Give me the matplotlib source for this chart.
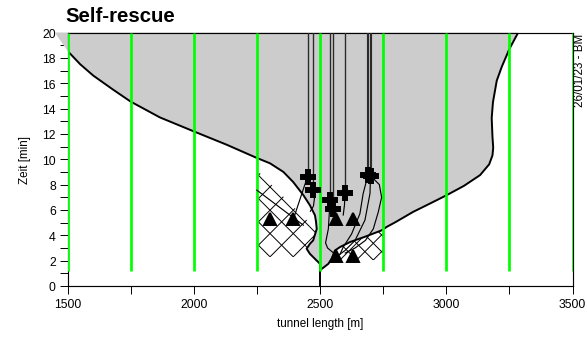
import numpy as np
import matplotlib.pyplot as plt
from matplotlib.patches import Polygon

plt.rcParams['font.family'] = ['Liberation Sans', 'DejaVu Sans']

# boundary of the grey zone (tunnel length [m], time [min])
zone_x = [1450, 3285, 3250, 3220, 3200, 3185, 3180, 3183, 3186, 3183, 3170, 3134,
          3070, 3002, 2935, 2869, 2800, 2764, 2744, 2680, 2619, 2579, 2559, 2546,
          2533, 2507, 2500, 2500, 2480, 2460, 2447, 2460, 2473, 2487, 2484, 2480,
          2460, 2434, 2394, 2355, 2302, 2250, 2130, 2000, 1866, 1750, 1680, 1602,
          1550, 1500, 1450]
zone_y = [20, 20, 18.7, 17.3, 16.2, 14.5, 13.25, 11.8, 10.9, 10.3, 9.6, 8.75,
          7.9, 7.17, 6.5, 5.85, 5.05, 4.66, 4.39, 3.9, 3.47, 3.07, 2.8, 2.14,
          1.75, 1.35, 1.3, 1.75, 2.14, 2.54, 2.94, 3.33, 3.6, 4.5, 5.1, 5.58,
          6.37, 7.17, 8.2, 9.0, 9.68, 10.1, 11.15, 12.2, 13.3, 14.55, 15.5, 16.6,
          17.5, 18.55, 20]

# cross-hatched areas
hatch_left_x = [2250, 2250, 2490, 2490]
hatch_left_y = [2.3, 9.15, 4.35, 2.3]
hatch_right_x = [2540, 2750, 2750, 2540]
hatch_right_y = [2.05, 2.05, 4.8, 3.4]

# measuring positions (green)
sensor_x = [1500, 1750, 2000, 2250, 2500, 2750, 3000, 3250, 3500]

# persons: walking line from the top down to the point where they react
walk_x = [2451, 2473, 2540, 2553, 2599, 2690, 2700]
react_y = [8.6, 7.56, 6.77, 6.1, 7.3, 8.75, 8.7]

# escape paths after reacting
paths = [
    ([2451, 2440, 2420, 2395], [8.6, 8.0, 6.8, 5.3]),
    ([2473, 2478, 2474, 2462], [7.56, 6.9, 6.3, 5.9]),
    ([2250, 2434], [7.56, 4.8]),
    ([2540, 2533, 2522, 2530, 2548, 2565], [6.77, 4.5, 3.4, 3.0, 2.7, 2.4]),
    ([2553, 2560, 2565], [6.1, 5.6, 5.3]),
    ([2599, 2597, 2592], [7.3, 6.4, 5.6]),
    ([2690, 2671, 2658, 2625, 2592, 2579], [8.75, 7.3, 5.7, 4.1, 3.07, 2.5]),
    ([2700, 2698, 2678, 2639, 2599, 2575], [8.7, 7.3, 5.2, 3.6, 2.8, 2.45]),
    ([2700, 2735, 2744, 2731, 2711, 2680, 2639, 2600], [8.7, 8.0, 7.0, 5.85, 4.5, 3.6, 3.0, 2.6]),
]

# end points of the persons
end_x = [2300, 2395, 2565, 2632, 2565, 2632]
end_y = [5.3, 5.3, 5.3, 5.3, 2.4, 2.4]

fig = plt.figure(figsize=(587 / 140, 341 / 140), dpi=140)
ax = fig.add_axes([67.5 / 587, 1 - 287 / 341, 505 / 587, 253.5 / 341])


def lattice(xs, ys, x0, y0, step, slope=0.02):
    # diagonal cross lines clipped to the given area
    poly = Polygon(np.column_stack([xs, ys]), closed=True, facecolor='white',
                   edgecolor='none', zorder=1)
    ax.add_patch(poly)
    xx = np.array([x0 - 3000, x0 + 3000])
    for k in range(-40, 41):
        xv = x0 + k * step
        for sgn in (-1, 1):
            ln, = ax.plot(xx, y0 + sgn * slope * (xx - xv), color='black',
                          lw=0.5, zorder=1.5)
            ln.set_clip_path(poly)


lattice(hatch_left_x, hatch_left_y, 2302, 2.3, 92)
lattice(hatch_right_x, hatch_right_y, 2645, 2.05, 66)

ax.fill(zone_x, zone_y, color='#cccccc', linewidth=0, zorder=2, clip_on=False)
ax.plot(zone_x[1:-1], zone_y[1:-1], color='black', lw=1.0, zorder=3)
ax.plot([2500, 2500], [0, 1.3], color='black', lw=1.0, zorder=3)

ax.vlines(sensor_x, 1.2, 20, color='#00ff00', lw=1.4, zorder=4)

for x, y in zip(walk_x, react_y):
    lw = 1.1 if x >= 2690 else 0.7
    ax.plot([x, x], [20, y], color='#2a2a2a', lw=lw, zorder=5)
for px, py in paths:
    ax.plot(px, py, color='black', lw=0.6, zorder=5)

ax.plot(walk_x, react_y, 'P', color='black', ms=7, zorder=6)
ax.plot(end_x, end_y, '^', color='black', ms=6, zorder=6)

ax.set_xlim(1500, 3500)
ax.set_ylim(0, 20)
ax.set_xticks([1500, 2000, 2500, 3000, 3500])
ax.set_xticks([1750, 2250, 2750, 3250], minor=True)
ax.set_yticks(np.arange(0, 21, 2))
ax.set_yticks(np.arange(1, 20, 2), minor=True)
ax.tick_params(which='both', direction='out', length=4, width=0.5,
               labelsize=6.3, pad=2)
for s in ax.spines.values():
    s.set_linewidth(0.6)

ax.set_xlabel('tunnel length [m]', fontsize=6, labelpad=4)
ax.set_ylabel('Zeit [min]', fontsize=6, labelpad=6)
fig.text(65 / 587, 1 - 17 / 341, 'Self-rescue', fontsize=10.5, fontweight='bold',
         ha='left', va='center')
fig.text(580 / 587, 1 - 34 / 341, '26/01/23 - BM', fontsize=6, rotation=90,
         ha='center', va='top')

fig.savefig('out.png', dpi=140)
